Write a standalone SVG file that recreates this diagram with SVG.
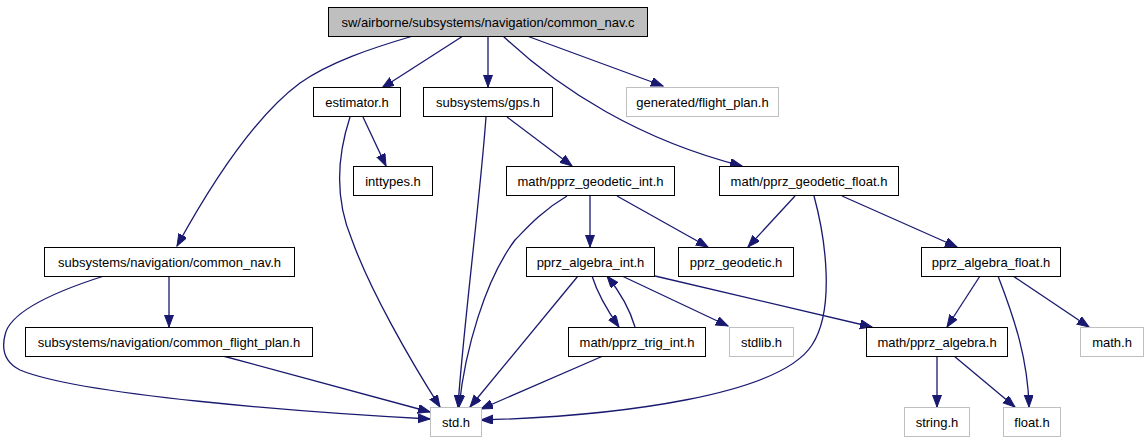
<svg xmlns="http://www.w3.org/2000/svg" width="1148" height="443" viewBox="0 0 1148 443">
<style>
.n rect{fill:#fff;stroke:#000;stroke-width:1}
.g rect{fill:#fff;stroke:#bfbfbf;stroke-width:1}
.root rect{fill:#bfbfbf;stroke:#000;stroke-width:1}
text{font-family:"Liberation Sans",Arial,sans-serif;font-size:13px;fill:#000;text-anchor:middle}
.e path{fill:none;stroke:#191970;stroke-width:1.3;marker-end:url(#a)}
</style>
<defs>
<marker id="a" markerWidth="14" markerHeight="10" refX="12" refY="4.5" orient="auto" markerUnits="userSpaceOnUse">
<path d="M0,0 L12,4.5 L0,9 z" fill="#191970" stroke="#191970" stroke-width="1"/>
</marker>
</defs>
<rect width="1148" height="443" fill="#fff"/>
<g class="e" id="edges">
<path d="M463,36 L382,88"/>
<path d="M488,36 L488,87"/>
<path d="M527,36 L663,86"/>
<path d="M503,36 C560,90 640,140 742,166"/>
<path d="M413,36 C372,48 330,62 300,83 C250,120 205,195 177,246"/>
<path d="M363,117 L386,166"/>
<path d="M350,117 C336,160 335,200 352,240 C370,290 410,360 440,407"/>
<path d="M486,117 C480,200 462,340 458,407"/>
<path d="M507,117 L572,166"/>
<path d="M590,196 L590,247"/>
<path d="M617,196 L708,247"/>
<path d="M567,196 C540,212 525,230 515,240 C485,280 465,350 459,407"/>
<path d="M795,196 L748,247"/>
<path d="M842,196 L957,247"/>
<path d="M814,196 C826,240 835,310 812,345 C780,395 620,416 481,420"/>
<path d="M169,276 L169,327"/>
<path d="M104,276 C60,290 10,310 5,335 C0,355 10,365 20,370 C80,395 300,412 430,419"/>
<path d="M223,356 L430,412"/>
<path d="M592,276 C598,295 607,310 619,327"/>
<path d="M635,327 C630,310 620,292 607,276"/>
<path d="M622,276 L728,326"/>
<path d="M655,276 L872,327"/>
<path d="M578,276 L470,407"/>
<path d="M603,356 L481,409"/>
<path d="M980,276 L947,327"/>
<path d="M998,276 C1015,320 1028,360 1029,407"/>
<path d="M1013,276 L1089,327"/>
<path d="M937,356 L937,407"/>
<path d="M954,356 L1015,407"/>
</g>
<g id="root" class="root"><rect x="328.5" y="7.5" width="319" height="29"/><text x="488" y="26.5">sw/airborne/subsystems/navigation/common_nav.c</text></g>
<g id="estimator" class="n"><rect x="313.5" y="87.5" width="87" height="29"/><text x="357" y="106.5">estimator.h</text></g>
<g id="gps" class="n"><rect x="423.5" y="87.5" width="129" height="29"/><text x="488" y="106.5">subsystems/gps.h</text></g>
<g id="flight_plan" class="g"><rect x="626.5" y="87.5" width="152" height="29"/><text x="702.5" y="106.5">generated/flight_plan.h</text></g>
<g id="inttypes" class="n"><rect x="353.5" y="166.5" width="79" height="29"/><text x="393" y="185.5">inttypes.h</text></g>
<g id="geodetic_int" class="n"><rect x="506.5" y="166.5" width="168" height="29"/><text x="590.5" y="185.5">math/pprz_geodetic_int.h</text></g>
<g id="geodetic_float" class="n"><rect x="719.5" y="166.5" width="179" height="29"/><text x="809" y="185.5">math/pprz_geodetic_float.h</text></g>
<g id="common_nav" class="n"><rect x="44.5" y="247.5" width="250" height="29"/><text x="169.5" y="266.5">subsystems/navigation/common_nav.h</text></g>
<g id="algebra_int" class="n"><rect x="526.5" y="247.5" width="128" height="29"/><text x="590.5" y="266.5">pprz_algebra_int.h</text></g>
<g id="pprz_geodetic" class="n"><rect x="678.5" y="247.5" width="115" height="29"/><text x="736" y="266.5">pprz_geodetic.h</text></g>
<g id="algebra_float" class="n"><rect x="921.5" y="247.5" width="139" height="29"/><text x="991" y="266.5">pprz_algebra_float.h</text></g>
<g id="common_flight_plan" class="n"><rect x="25.5" y="327.5" width="287" height="29"/><text x="169" y="346.5">subsystems/navigation/common_flight_plan.h</text></g>
<g id="trig_int" class="n"><rect x="568.5" y="327.5" width="137" height="29"/><text x="637" y="346.5">math/pprz_trig_int.h</text></g>
<g id="stdlib" class="g"><rect x="729.5" y="327.5" width="64" height="29"/><text x="761.5" y="346.5">stdlib.h</text></g>
<g id="pprz_algebra" class="n"><rect x="866.5" y="327.5" width="141" height="29"/><text x="937" y="346.5">math/pprz_algebra.h</text></g>
<g id="math" class="g"><rect x="1080.5" y="327.5" width="63" height="29"/><text x="1112" y="346.5">math.h</text></g>
<g id="std" class="g"><rect x="430.5" y="407.5" width="51" height="29"/><text x="456" y="426.5">std.h</text></g>
<g id="string" class="g"><rect x="904.5" y="407.5" width="65" height="29"/><text x="937" y="426.5">string.h</text></g>
<g id="float" class="g"><rect x="1003.5" y="407.5" width="57" height="29"/><text x="1032" y="426.5">float.h</text></g>
</svg>
